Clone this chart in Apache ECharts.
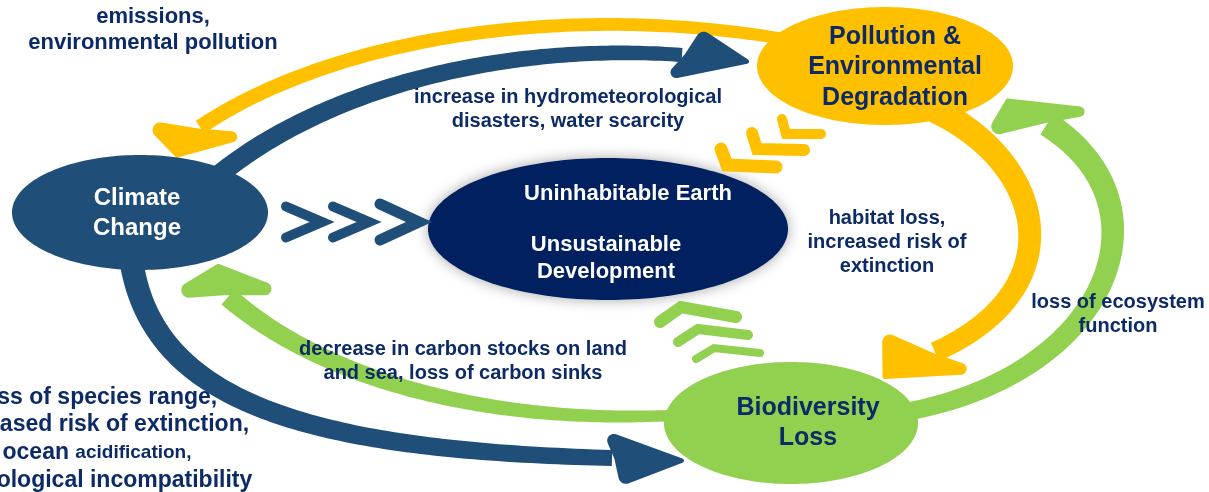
<!DOCTYPE html>
<html>
<head>
<meta charset="utf-8">
<script src="https://cdn.jsdelivr.net/npm/echarts@6/dist/echarts.min.js"></script>
<style>
html,body{margin:0;padding:0;background:#ffffff;}
#chart{width:1209px;height:492px;}
</style>
</head>
<body>
<div id="chart"></div>
<script>
// ---------------- DATA ----------------
const nodeKeys = ['Climate', 'Pollution', 'Biodiversity', 'Earth'];
const nodeTitles = ['Climate\nChange', 'Pollution &\nEnvironmental\nDegradation', 'Biodiversity\nLoss', 'Uninhabitable Earth'];
const nodeSubtitles = ['', '', '', 'Unsustainable\nDevelopment'];

const linkFrom = ['Pollution', 'Climate', 'Pollution', 'Biodiversity', 'Biodiversity', 'Climate'];
const linkTo   = ['Climate', 'Pollution', 'Biodiversity', 'Pollution', 'Climate', 'Biodiversity'];
const linkLabels = [
  'emissions,\nenvironmental pollution',
  'increase in hydrometeorological\ndisasters, water scarcity',
  'habitat loss,\nincreased risk of\nextinction',
  'loss of ecosystem\nfunction',
  'decrease in carbon stocks on land\nand sea, loss of carbon sinks',
  'loss of species range,\nincreased risk of extinction,\nocean {s|acidification,}\nphenological incompatibility'
];
const driverNodes = ['Climate', 'Pollution', 'Biodiversity']; // chevrons pointing at 'Earth'

// ---------------- LAYOUT & STYLE ----------------
const FONT = "'Liberation Sans', Arial, Helvetica, sans-serif";
const NAVY_TEXT = '#0C2A66';
const nodeStyle = {
  Climate:      {cx:140, cy:212.5, rx:128, ry:57.5, fill:'#1F4E79', color:'#FFFFFF', title:{dx:-3, dy:0.5, size:24, lh:30}},
  Pollution:    {cx:885, cy:66,    rx:128, ry:59,   fill:'#FFC000', color:NAVY_TEXT, title:{dx:10, dy:1.5, size:25, lh:30.5}},
  Biodiversity: {cx:791, cy:423,   rx:127, ry:61,   fill:'#92D050', color:NAVY_TEXT, title:{dx:17, dy:0,   size:25, lh:30}},
  Earth:        {cx:608, cy:229,   rx:180, ry:71,   fill:'#002060', color:'#FFFFFF', shadow:true,
                 title:{dx:20, dy:-35, size:22, lh:27}, sub:{dx:-2, dy:29.5, size:22, lh:27}}
};
const linkShape = [
  {p:[[790,40],[560,0],[330,40],[200,127]],       w:[12,15], head:{len:38, half:60, dir:128, wing:7}},
  {p:[[215,178],[320,90],[500,42],[682,55]],      w:[20,14], head:{len:69, half:32, dir:6,   wing:128}},
  {p:[[935,110],[1048,165],[1074,290],[935,352]], w:[26,20], head:{len:58, half:56, dir:153, wing:21.5}},
  {p:[[905,412],[1110,375],[1175,205],[1047,124]],w:[18,25], head:{len:47, half:64, dir:212, wing:-12}},
  {p:[[680,415],[500,425],[330,385],[228,297]],   w:[11,20], head:{len:34, half:68, dir:253, wing:-2}},
  {p:[[130,250],[145,400],[300,450],[612,458]],   w:[24,16], head:{len:74, half:29, dir:2,   wing:72}}
];
const labelStyle = [
  {x:153,  y:30,    size:22, lh:26},
  {x:568,  y:109,   size:20, lh:24},
  {x:887,  y:242,   size:20, lh:24},
  {x:1118, y:314,   size:20, lh:24},
  {x:463,  y:361,   size:20, lh:24},
  {x:97,   y:439,   size:23, lh:27.7, small:19}
];
const chevronShape = {
  Climate:      {apex:[[322,222],[369,222],[419,222]],
                 arms:[[[-36,-15.5],[-36,15.5]],[[-36,-15.5],[-36,15.5]],[[-39,-18],[-39,18]]], width:[10,10,11]},
  Pollution:    {apex:[[727,165],[757,149],[786,134]],
                 arms:[[[-6,-16],[49,2]],[[-5,-16],[47,1]],[[-4,-15],[35,0]]], width:[13,12,10]},
  Biodiversity: {apex:[[681,307],[698,329],[714,348]],
                 arms:[[[-21,15],[55,10]],[[-20,13],[50,6]],[[-18,11],[46,5]]], width:[12,10,8]}
};

// ---------------- HELPERS ----------------
// rounds polygon corners with per-vertex radii
function fillet(pts, radii, seg) {
  const out = [], n = pts.length;
  for (let i = 0; i < n; i++) {
    const V = pts[i], A = pts[(i + n - 1) % n], B = pts[(i + 1) % n];
    let r = radii[i];
    if (!r) { out.push(V); continue; }
    const la = Math.hypot(A[0]-V[0], A[1]-V[1]), lb = Math.hypot(B[0]-V[0], B[1]-V[1]);
    const u1 = [(A[0]-V[0])/la, (A[1]-V[1])/la], u2 = [(B[0]-V[0])/lb, (B[1]-V[1])/lb];
    const ang = Math.acos(Math.max(-1, Math.min(1, u1[0]*u2[0] + u1[1]*u2[1])));
    const half = ang / 2;
    let t = r / Math.tan(half);
    const tmax = 0.45 * Math.min(la, lb);
    if (t > tmax) { t = tmax; r = t * Math.tan(half); }
    let bx = u1[0] + u2[0], by = u1[1] + u2[1];
    const bl = Math.hypot(bx, by) || 1; bx /= bl; by /= bl;
    const dc = r / Math.sin(half);
    const C = [V[0] + bx*dc, V[1] + by*dc];
    const p1 = [V[0] + u1[0]*t, V[1] + u1[1]*t], p2 = [V[0] + u2[0]*t, V[1] + u2[1]*t];
    const a1 = Math.atan2(p1[1]-C[1], p1[0]-C[0]);
    let da = Math.atan2(p2[1]-C[1], p2[0]-C[0]) - a1;
    while (da > Math.PI) da -= 2*Math.PI;
    while (da < -Math.PI) da += 2*Math.PI;
    for (let k = 0; k <= seg; k++) {
      const a = a1 + da * k / seg;
      out.push([C[0] + r*Math.cos(a), C[1] + r*Math.sin(a)]);
    }
  }
  return out;
}

// ---------------- RENDERERS ----------------
function renderLink(params, api) {
  const i = params.dataIndex;
  const s = linkShape[i];
  const color = nodeStyle[linkFrom[i]].fill;
  const P = s.p.map(q => api.coord(q));
  const N = 100, left = [], right = [];
  for (let k = 0; k <= N; k++) {
    const t = k / N, u = 1 - t;
    const b0 = u*u*u, b1 = 3*u*u*t, b2 = 3*u*t*t, b3 = t*t*t;
    const x = b0*P[0][0] + b1*P[1][0] + b2*P[2][0] + b3*P[3][0];
    const y = b0*P[0][1] + b1*P[1][1] + b2*P[2][1] + b3*P[3][1];
    const d0 = 3*u*u, d1 = 6*u*t, d2 = 3*t*t;
    const dx = d0*(P[1][0]-P[0][0]) + d1*(P[2][0]-P[1][0]) + d2*(P[3][0]-P[2][0]);
    const dy = d0*(P[1][1]-P[0][1]) + d1*(P[2][1]-P[1][1]) + d2*(P[3][1]-P[2][1]);
    const len = Math.hypot(dx, dy) || 1;
    const nx = -dy/len, ny = dx/len;
    const hw = (s.w[0] + (s.w[1]-s.w[0]) * t) / 2;
    left.push([x + nx*hw, y + ny*hw]);
    right.push([x - nx*hw, y - ny*hw]);
  }
  const shaft = left.concat(right.reverse());
  const E = P[3], hd = s.head, r = Math.PI/180;
  const hx = Math.cos(hd.dir*r), hy = Math.sin(hd.dir*r);
  const wx = Math.cos(hd.wing*r), wy = Math.sin(hd.wing*r);
  const tip = [E[0] + hx*hd.len, E[1] + hy*hd.len];
  const w1 = [E[0] + wx*hd.half, E[1] + wy*hd.half];
  const w2 = [E[0] - wx*hd.half, E[1] - wy*hd.half];
  const notch = [E[0] + hx*3, E[1] + hy*3];
  const headPts = fillet([tip, w1, notch, w2], [1.5, 7, 0, 7], 10);
  return {type:'group', children:[
    {type:'polygon', shape:{points:shaft}, style:{fill:color}},
    {type:'polygon', shape:{points:headPts}, style:{fill:color, stroke:color, lineWidth:1.5, lineJoin:'round'}}
  ]};
}

function textEl(x, y, text, color, size, lh, rich) {
  const st = {text:text, fill:color, fontSize:size, fontWeight:'bold', fontFamily:FONT,
              align:'center', verticalAlign:'middle', lineHeight:lh};
  if (rich) st.rich = rich;
  return {type:'text', x:x, y:y, style:st};
}

function renderNode(params, api) {
  const key = nodeKeys[params.dataIndex];
  const s = nodeStyle[key];
  const c = api.coord([s.cx, s.cy]);
  const sz = api.size([s.rx, s.ry]);
  const pts = [];
  for (let k = 0; k < 180; k++) {
    const a = k / 180 * Math.PI * 2;
    pts.push([c[0] + sz[0]*Math.cos(a), c[1] + sz[1]*Math.sin(a)]);
  }
  const style = {fill:s.fill};
  if (s.shadow) { style.shadowBlur = 14; style.shadowColor = 'rgba(0,0,0,0.35)'; }
  const children = [{type:'polygon', shape:{points:pts}, style:style}];
  const i = params.dataIndex;
  children.push(textEl(c[0] + s.title.dx, c[1] + s.title.dy, nodeTitles[i], s.color, s.title.size, s.title.lh));
  if (nodeSubtitles[i]) {
    children.push(textEl(c[0] + s.sub.dx, c[1] + s.sub.dy, nodeSubtitles[i], s.color, s.sub.size, s.sub.lh));
  }
  return {type:'group', children:children};
}

const chevronItems = [];
driverNodes.forEach((n, g) => chevronShape[n].apex.forEach((a, k) => chevronItems.push([g, k])));

function renderChevron(params, api) {
  const it = chevronItems[params.dataIndex];
  const key = driverNodes[it[0]];
  const cs = chevronShape[key];
  const a = cs.apex[it[1]], arms = cs.arms[it[1]];
  const p0 = api.coord([a[0] + arms[0][0], a[1] + arms[0][1]]);
  const p1 = api.coord(a);
  const p2 = api.coord([a[0] + arms[1][0], a[1] + arms[1][1]]);
  return {type:'polyline', shape:{points:[p0, p1, p2]},
          style:{fill:null, stroke:nodeStyle[key].fill, lineWidth:cs.width[it[1]],
                 lineCap:'round', lineJoin:'miter', miterLimit:10}};
}

function renderLabel(params, api) {
  const i = params.dataIndex;
  const s = labelStyle[i];
  const c = api.coord([s.x, s.y]);
  const rich = s.small ? {s:{fontSize:s.small, fontWeight:'bold', fontFamily:FONT, fill:NAVY_TEXT, lineHeight:s.lh}} : null;
  return textEl(c[0], c[1], linkLabels[i], NAVY_TEXT, s.size, s.lh, rich);
}

// ---------------- CHART ----------------
const chart = echarts.init(document.getElementById('chart'), null, {renderer:'canvas'});
chart.setOption({
  backgroundColor:'#ffffff',
  animation:false,
  grid:{left:0, right:0, top:0, bottom:0},
  xAxis:{type:'value', min:0, max:1209, show:false},
  yAxis:{type:'value', min:0, max:492, inverse:true, show:false},
  series:[
    {type:'custom', coordinateSystem:'cartesian2d', clip:false, silent:true, z:1,
     data:linkFrom.map((f, i) => [i, 0]), renderItem:renderLink},
    {type:'custom', coordinateSystem:'cartesian2d', clip:false, silent:true, z:2,
     data:nodeKeys.map((n, i) => [i, 0]), renderItem:renderNode},
    {type:'custom', coordinateSystem:'cartesian2d', clip:false, silent:true, z:3,
     data:chevronItems.map((c, i) => [i, 0]), renderItem:renderChevron},
    {type:'custom', coordinateSystem:'cartesian2d', clip:false, silent:true, z:4,
     data:linkLabels.map((l, i) => [i, 0]), renderItem:renderLabel}
  ]
});
</script>
</body>
</html>
